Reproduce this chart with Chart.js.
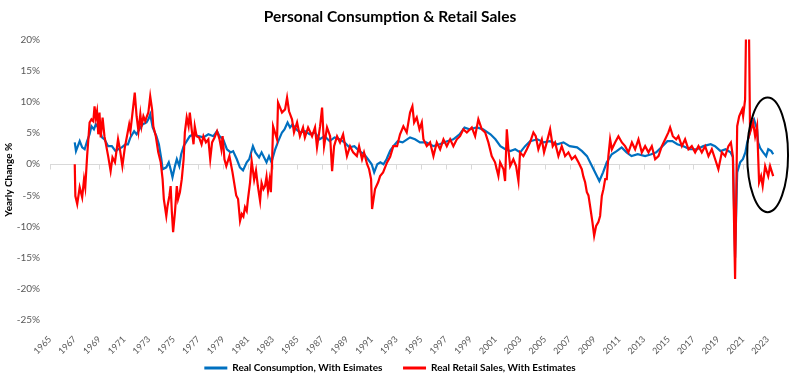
<!DOCTYPE html>
<html>
<head>
<meta charset="utf-8">
<script src="https://cdn.jsdelivr.net/npm/chart.js@4.4.1/dist/chart.umd.min.js"></script>
<style>
  html, body { margin: 0; padding: 0; background: #ffffff; }
  #wrap { width: 790px; height: 383px; }
</style>
</head>
<body>
<div id="wrap"><canvas id="c" width="790" height="383"></canvas></div>
<script>
// ---- Data ----
const chartTitle = 'Personal Consumption & Retail Sales';
const yAxisTitle = 'Yearly Change %';
const seriesNames = ['Real Consumption, With Esimates', 'Real Retail Sales, With Estimates'];
const tickYears = [1965,1967,1969,1971,1973,1975,1977,1979,1981,1983,1985,1987,1989,1991,1993,1995,1997,1999,2001,2003,2005,2007,2009,2011,2013,2015,2017,2019,2021,2023];
const yTicks = [20, 15, 10, 5, 0, -5, -10, -15, -20, -25];

const consumptionDates = [
1967.0,1967.1,1967.4,1967.6,1967.8,1968.0,1968.2,1968.35,1968.55,1968.7,1969.0,1969.2,1969.4,1969.7,1970.0,1970.3,1970.5,1970.8,
1971.1,1971.3,1971.5,1971.8,1972.0,1972.3,1972.5,1972.8,1972.95,1973.1,1973.3,1973.6,1973.8,1974.0,1974.1,1974.4,1974.6,1974.75,1974.9,
1975.1,1975.25,1975.45,1975.6,1975.8,1976.05,1976.3,1976.6,1977.0,1977.4,1977.8,1978.2,1978.5,1978.7,1979.0,1979.3,1979.6,1979.8,
1980.1,1980.35,1980.6,1980.9,1981.1,1981.4,1981.6,1981.9,1982.1,1982.5,1982.7,1982.9,1983.2,1983.45,1983.75,1983.95,1984.2,1984.4,
1984.6,1984.9,1985.2,1985.6,1986.0,1986.4,1986.8,1987.2,1987.6,1988.0,1988.4,1988.8,1989.2,1989.6,1990.0,1990.4,1990.7,1991.0,1991.2,
1991.45,1991.7,1991.95,1992.2,1992.5,1992.75,1993.1,1993.5,1994.1,1994.5,1994.9,1995.4,1996.0,1996.5,1997.1,1997.6,1998.1,1998.5,
1998.9,1999.5,2000.0,2000.6,2001.0,2001.4,2001.8,2002.2,2002.6,2003.0,2003.4,2003.8,2004.4,2004.9,2005.4,2006.0,2006.5,2007.0,2007.6,
2008.0,2008.4,2008.8,2009.2,2009.4,2009.7,2010.0,2010.4,2010.8,2011.2,2011.6,2012.0,2012.5,2013.1,2013.6,2014.0,2014.5,2014.9,2015.3,
2015.7,2016.2,2016.7,2017.3,2017.8,2018.4,2018.75,2019.2,2019.6,2020.0,2020.2,2020.37,2020.54,2020.78,2021.0,2021.2,2021.35,2021.55,
2021.75,2021.9,2022.15,2022.23,2022.4,2022.64,2022.88,2023.05,2023.3,2023.45
];
const consumptionValues = [
3.5,2.1,3.7,2.7,2.4,3.7,4.8,6.1,5.6,6.4,5.6,4.3,4.0,2.9,2.9,2.1,2.4,2.7,
3.2,3.2,4.3,5.3,4.8,5.9,6.4,6.7,7.2,8.0,5.9,4.5,3.2,0.8,-0.8,-0.5,0.3,-0.8,-2.1,
-0.3,0.8,-0.3,1.6,2.9,3.7,4.5,4.8,4.5,4.3,4.8,4.5,5.3,4.5,4.0,2.4,1.9,2.1,
0.8,-0.5,-1.0,0.3,0.8,2.9,1.9,1.1,1.9,0.3,1.3,0.3,2.4,3.7,5.1,5.6,6.7,5.9,
6.4,5.6,5.1,5.3,4.8,5.1,4.0,4.5,3.7,4.3,4.0,3.5,2.7,2.9,2.1,1.6,0.8,0.0,-1.3,
0.0,0.3,0.0,0.8,2.2,2.9,3.7,3.5,4.3,4.0,3.5,3.5,2.9,3.2,3.7,4.0,4.8,5.9,
5.6,5.9,5.6,4.8,4.0,2.9,2.4,2.1,2.4,1.9,2.9,3.7,4.0,3.5,3.7,3.2,3.5,2.9,2.7,
2.1,1.3,-0.3,-1.9,-2.7,-1.3,0.3,1.6,2.1,2.7,1.9,1.3,1.6,1.3,1.6,1.9,2.9,3.7,3.7,
3.2,2.9,2.4,2.4,2.9,3.2,2.9,2.1,2.4,1.9,1.1,-15.0,-1.3,0.3,0.8,1.9,3.5,5.0,
6.7,7.2,5.6,3.5,2.6,1.9,1.3,2.4,2.1,1.6
];

const retailDates = [
1967.0,1967.05,1967.2,1967.4,1967.6,1967.75,1967.85,1968.0,1968.2,1968.35,1968.5,1968.6,1968.7,1968.8,1968.9,1969.0,1969.1,1969.25,
1969.4,1969.55,1969.7,1969.9,1970.05,1970.25,1970.5,1970.65,1970.85,1971.05,1971.25,1971.4,1971.5,1971.7,1971.85,1972.0,1972.15,
1972.3,1972.4,1972.55,1972.7,1972.8,1972.95,1973.1,1973.25,1973.35,1973.55,1973.75,1973.95,1974.1,1974.2,1974.4,1974.5,1974.65,
1974.75,1974.85,1974.95,1975.1,1975.25,1975.35,1975.5,1975.65,1975.8,1975.9,1976.05,1976.2,1976.3,1976.45,1976.6,1976.7,1976.85,
1977.05,1977.25,1977.4,1977.6,1977.8,1977.95,1978.1,1978.3,1978.5,1978.7,1978.85,1978.95,1979.1,1979.25,1979.5,1979.75,1980.05,
1980.2,1980.36,1980.5,1980.63,1980.76,1980.9,1981.0,1981.17,1981.3,1981.5,1981.65,1981.8,1981.98,1982.1,1982.25,1982.38,1982.5,
1982.62,1982.75,1982.85,1982.95,1983.03,1983.35,1983.43,1983.75,1984.0,1984.16,1984.32,1984.56,1984.72,1984.97,1985.2,1985.45,
1985.6,1985.86,1986.18,1986.42,1986.58,1986.83,1986.99,1987.15,1987.39,1987.64,1987.8,1987.96,1988.2,1988.44,1988.69,1989.0,
1989.25,1989.5,1989.8,1989.98,1990.22,1990.38,1990.63,1990.79,1990.95,1991.03,1991.27,1991.52,1991.68,1991.92,1992.24,1992.49,
1992.75,1993.05,1993.29,1993.56,1993.83,1994.1,1994.29,1994.43,1994.64,1994.86,1995.05,1995.18,1995.45,1995.72,1995.99,1996.26,
1996.53,1996.8,1997.07,1997.34,1997.6,1997.88,1998.14,1998.41,1998.69,1999.09,1999.36,1999.62,1999.9,2000.17,2000.43,2000.7,
2000.97,2001.24,2001.38,2001.65,2001.78,2001.92,2002.05,2002.19,2002.45,2002.67,2002.86,2002.99,2003.26,2003.54,2003.8,2004.07,
2004.26,2004.47,2004.75,2004.93,2005.15,2005.42,2005.63,2005.82,2006.09,2006.36,2006.63,2006.9,2007.17,2007.44,2007.71,2007.98,
2008.11,2008.25,2008.39,2008.52,2008.65,2008.84,2008.98,2009.14,2009.32,2009.46,2009.6,2009.73,2009.87,2010.0,2010.13,2010.27,
2010.41,2010.67,2010.94,2011.22,2011.48,2011.75,2012.03,2012.29,2012.56,2012.83,2013.1,2013.37,2013.64,2013.91,2014.18,2014.45,
2014.72,2014.98,2015.12,2015.34,2015.61,2015.79,2016.07,2016.33,2016.6,2016.87,2017.14,2017.41,2017.68,2017.95,2018.22,2018.49,
2018.76,2019.02,2019.3,2019.57,2019.83,2020.03,2020.19,2020.37,2020.54,2020.7,2020.94,2021.02,2021.18,2021.3,2021.46,2021.58,
2021.83,2021.99,2022.15,2022.31,2022.47,2022.6,2022.8,2023.05,2023.2,2023.45
];
const retailValues = [
0.0,-5.1,-6.4,-3.7,-5.3,-2.4,-3.7,1.3,6.7,7.2,6.9,9.3,7.5,8.5,4.8,8.3,4.3,7.5,
4.5,2.9,1.3,-1.1,1.1,0.3,4.0,2.4,-0.3,2.7,4.8,6.4,5.3,8.8,11.5,7.7,5.3,
8.0,6.1,7.7,6.9,7.5,8.3,10.9,8.8,6.1,4.5,1.9,0.3,-2.4,-5.6,-8.3,-6.7,-5.1,
-3.5,-7.7,-10.9,-7.7,-3.5,-5.6,-4.5,-2.4,0.8,5.1,7.5,6.1,8.3,5.6,3.2,6.1,4.5,
4.3,3.2,4.5,3.5,4.0,0.8,3.5,4.3,5.3,4.0,2.4,4.5,0.8,-0.3,1.3,-1.3,-5.0,
-5.6,-9.1,-8.0,-8.4,-6.9,-7.5,-5.6,-2.9,0.5,-2.5,-1.0,-3.5,-5.9,-3.0,-4.0,-3.5,-2.0,
-4.3,-2.5,-4.5,0.5,6.1,4.0,9.9,8.3,8.8,10.7,8.5,7.2,5.1,6.7,4.5,5.9,
4.3,5.9,4.5,5.9,2.7,6.1,9.1,2.9,5.9,4.5,-1.1,2.9,4.5,3.5,4.8,1.3,
2.9,1.9,1.3,2.9,0.8,1.9,0.0,-0.8,-2.4,-7.2,-4.0,-2.9,-1.9,-1.3,0.3,1.2,
2.9,2.9,4.8,6.1,5.1,8.3,9.3,6.7,7.5,5.6,6.7,4.0,2.9,3.5,1.3,3.5,
2.4,4.0,2.9,4.0,2.9,4.0,4.5,5.6,5.1,5.9,4.5,7.2,5.6,5.1,3.5,1.3,
0.3,-1.9,0.3,-0.8,-2.7,5.6,2.4,-0.3,0.8,-0.3,-2.7,1.9,1.3,2.4,3.5,5.1,
4.5,2.4,4.0,1.9,3.5,5.6,2.9,3.5,1.3,2.9,1.3,1.9,0.8,1.3,0.3,-0.8,
-2.0,-2.9,-4.5,-5.0,-6.7,-9.3,-11.5,-9.9,-9.3,-8.3,-5.1,-4.0,-2.4,-2.4,1.3,4.0,
2.4,3.5,4.5,3.5,2.9,1.9,3.5,2.4,4.0,1.9,2.9,1.9,2.9,0.8,1.3,2.9,
4.0,5.1,5.9,4.5,4.0,4.5,2.9,4.0,2.4,2.9,1.9,2.9,1.9,2.9,1.3,2.4,
0.8,-0.8,1.9,1.3,2.9,3.5,1.3,-18.4,6.1,7.7,8.8,7.7,10.4,28.0,28.0,5.1,
6.7,4.5,6.1,-2.9,-1.9,-3.5,-0.3,-1.9,-0.3,-1.9
];

// Hand-drawn annotation ellipse (in data units): centre year, centre %, half-width years, half-height %
const noteEllipse = [2023.0, 1.5, 1.65, 9.2];

// ---- Plugins ----
const zeroTicks = {
  id: 'zeroTicks',
  beforeDatasetsDraw(chart) {
    const {ctx, scales: {x, y}} = chart;
    const y0 = Math.round(y.getPixelForValue(0)) + 0.5;
    ctx.save();
    ctx.strokeStyle = '#d9d9d9';
    ctx.lineWidth = 1;
    ctx.beginPath();
    x.ticks.forEach(t => {
      const px = Math.round(x.getPixelForValue(t.value)) + 0.5;
      ctx.moveTo(px, y0);
      ctx.lineTo(px, y0 + 5);
    });
    ctx.stroke();
    ctx.restore();
  }
};
const ellipseNote = {
  id: 'ellipseNote',
  afterDraw(chart) {
    const {ctx, scales: {x, y}} = chart;
    const [cxV, cyV, hwV, hhV] = noteEllipse;
    const cx = x.getPixelForValue(cxV), cy = y.getPixelForValue(cyV);
    const rx = Math.abs(x.getPixelForValue(cxV + hwV) - cx);
    const ry = Math.abs(y.getPixelForValue(cyV + hhV) - cy);
    ctx.save();
    ctx.strokeStyle = '#000000';
    ctx.lineWidth = 2;
    ctx.beginPath();
    ctx.ellipse(cx, cy, rx, ry, 0, 0, Math.PI * 2);
    ctx.stroke();
    ctx.restore();
  }
};

const toXY = (xs, ys) => xs.map((v, i) => ({x: v, y: ys[i]}));

new Chart(document.getElementById('c'), {
  type: 'line',
  data: {
    datasets: [
      {
        label: seriesNames[0],
        data: toXY(consumptionDates, consumptionValues),
        borderColor: '#0070C0',
        backgroundColor: '#0070C0',
        borderWidth: 2.2,
        pointRadius: 0,
        tension: 0,
        order: 1
      },
      {
        label: seriesNames[1],
        data: toXY(retailDates, retailValues),
        borderColor: '#FF0000',
        backgroundColor: '#FF0000',
        borderWidth: 2.2,
        pointRadius: 0,
        tension: 0,
        order: 0
      }
    ]
  },
  options: {
    responsive: false,
    animation: false,
    devicePixelRatio: 1,
    layout: { padding: { left: 0, right: 10, top: 0, bottom: 0 } },
    plugins: {
      title: {
        display: true,
        text: chartTitle,
        color: '#000000',
        font: { family: 'Lato', size: 15.5, weight: 'bold' },
        padding: { top: 8, bottom: 13 }
      },
      legend: {
        position: 'bottom',
        labels: {
          color: '#000000',
          font: { family: 'Lato', size: 10, weight: 'bold' },
          boxWidth: 23,
          boxHeight: 3,
          padding: 6,
          generateLabels(chart) {
            const items = Chart.defaults.plugins.legend.labels.generateLabels(chart);
            items.sort((a, b) => a.datasetIndex - b.datasetIndex);
            items.forEach((it, i) => {
              it.lineWidth = 0;
              if (i === 0) it.text = it.text + '      ';
            });
            return items;
          }
        }
      },
      tooltip: { enabled: false }
    },
    scales: {
      x: {
        type: 'linear',
        min: 1965,
        max: 2024,
        position: 'bottom',
        grid: { display: false },
        border: { display: false },
        afterBuildTicks(scale) { scale.ticks = tickYears.map(v => ({ value: v })); },
        afterFit(scale) { scale.height = 37; },
        ticks: {
          autoSkip: false,
          minRotation: 45,
          maxRotation: 45,
          padding: 6,
          color: '#595959',
          font: { family: 'Lato', size: 9 },
          callback: v => String(v)
        }
      },
      y: {
        min: -25,
        max: 20,
        grid: {
          drawTicks: false,
          color: ctx => (ctx.tick && ctx.tick.value === 0 ? '#d9d9d9' : 'rgba(0,0,0,0)'),
          lineWidth: 1
        },
        border: { display: false },
        afterBuildTicks(scale) { scale.ticks = yTicks.map(v => ({ value: v })); },
        afterFit(scale) { scale.width = 50; },
        title: {
          display: true,
          text: yAxisTitle,
          color: '#000000',
          font: { family: 'Lato', size: 10, weight: 'bold' },
          padding: { top: 3, bottom: 0 }
        },
        ticks: {
          padding: 10,
          color: '#595959',
          font: { family: 'Lato', size: 10 },
          callback: v => v + '%'
        }
      }
    }
  },
  plugins: [zeroTicks, ellipseNote]
});
</script>
</body>
</html>
